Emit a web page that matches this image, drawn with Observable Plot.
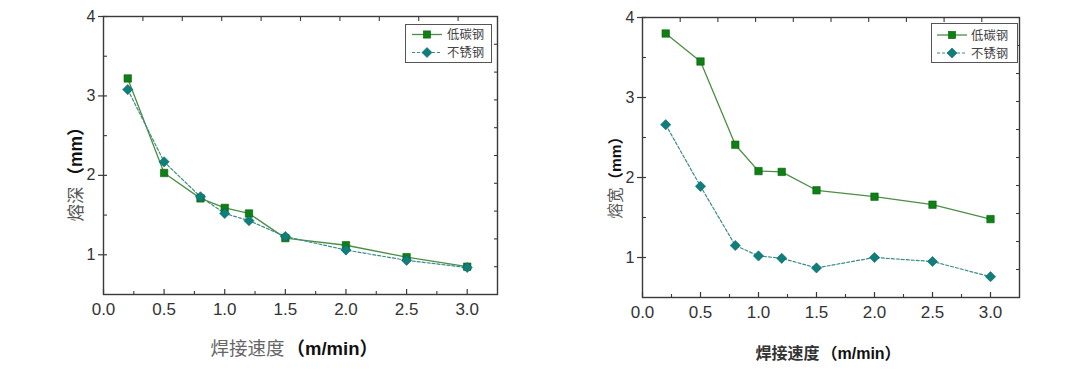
<!DOCTYPE html>
<html><head><meta charset="utf-8">
<script src="https://cdn.jsdelivr.net/npm/d3@7"></script>
<script src="https://cdn.jsdelivr.net/npm/@observablehq/plot@0.6"></script>
<style>
body{margin:0;background:#fff;}
#wrap{position:relative;width:1080px;height:372px;overflow:hidden;background:#fff;}
.panel{position:absolute;top:0;}
.legend{position:absolute;}
</style></head>
<body><div id="wrap"></div>
<script>
// ---- data ----
const speed = [0.2, 0.5, 0.8, 1.0, 1.2, 1.5, 2.0, 2.5, 3.0];
const depthLowCarbon = [3.22, 2.03, 1.71, 1.59, 1.52, 1.21, 1.12, 0.97, 0.85];
const depthStainless = [3.08, 2.17, 1.73, 1.52, 1.43, 1.23, 1.06, 0.93, 0.84];
const widthLowCarbon = [3.80, 3.45, 2.41, 2.08, 2.07, 1.84, 1.76, 1.66, 1.48];
const widthStainless = [2.66, 1.89, 1.15, 1.02, 0.99, 0.87, 1.00, 0.95, 0.76];
const seriesNames = ["低碳钢", "不锈钢"];
const xTicks = [0, 0.5, 1.0, 1.5, 2.0, 2.5, 3.0];
const xMinorTicks = [0.25, 0.75, 1.25, 1.75, 2.25, 2.75];
const topTicks = [0.325, 0.65, 0.975, 1.3, 1.625, 1.95, 2.275, 2.6, 2.925];
const yTicks = [1, 2, 3, 4];
const yMinorTicks = [1.5, 2.5, 3.5];
const rightTicks = [0.85, 1.2, 1.55, 1.9, 2.25, 2.6, 2.95, 3.3, 3.65];
const xLabelMain = "焊接速度";
const xLabelUnit = "（m/min）";
const yLabelDepth = "熔深";
const yLabelWidth = "熔宽";
const yLabelUnit = "（mm）";

const green = "#4a8f45", greenFill = "#0f8015", greenStroke = "#0a5e0e";
const teal = "#3d8c87", tealFill = "#0f7f7b", tealStroke = "#0b6361";
const wrap = document.getElementById("wrap");

function rows(vals, name) { return speed.map((s, i) => ({speed: s, value: vals[i], series: name})); }

function panel(cfg) {
  const {a, b, yLab, m, left, xl, yl} = cfg;
  const A = rows(a, seriesNames[0]), B = rows(b, seriesNames[1]);
  const W = 540, H = 372;
  const at = (px, py) => ({frameAnchor: "top-left", dx: px - left - m.l, dy: py - m.t});
  const cn = "'Noto Sans CJK SC', sans-serif";
  const svg = Plot.plot({
    width: W, height: H,
    marginLeft: m.l, marginRight: m.r, marginTop: m.t, marginBottom: m.b,
    x: {domain: [0, 3.25], label: null},
    y: {domain: [0.5, 4], label: null},
    style: {fontFamily: "'Liberation Sans', Arial, sans-serif", color: "#333", background: "transparent"},
    marks: [
      Plot.frame({stroke: "#3a3a3a", strokeWidth: 1.4}),
      Plot.axisX({ticks: xTicks, tickSize: 0, tickPadding: 8, tickFormat: d => d.toFixed(1), fontSize: m.fx, fill: "#333", label: null}),
      Plot.axisX({ticks: xTicks, tickSize: -5, text: null, label: null, stroke: "#3a3a3a", strokeWidth: 1.2}),
      Plot.axisX({ticks: xMinorTicks, tickSize: -3, text: null, label: null, stroke: "#3a3a3a", strokeWidth: 1.1}),
      Plot.axisX({anchor: "top", ticks: topTicks, tickSize: -4, text: null, label: null, stroke: "#3a3a3a", strokeWidth: 1.1}),
      Plot.axisY({ticks: yTicks, tickSize: 5, tickPadding: 3, tickFormat: d => String(d), fontSize: m.fy, fill: "#333", label: null, stroke: "#3a3a3a", strokeWidth: 1.2}),
      Plot.axisY({ticks: yTicks, tickSize: -4, text: null, label: null, stroke: "#3a3a3a", strokeWidth: 1.2}),
      Plot.axisY({ticks: yMinorTicks, tickSize: -4, text: null, label: null, stroke: "#3a3a3a", strokeWidth: 1.1}),
      Plot.axisY({anchor: "right", ticks: rightTicks, tickSize: -4, text: null, label: null, stroke: "#3a3a3a", strokeWidth: 1.1}),
      Plot.line(A, {x: "speed", y: "value", stroke: green, strokeWidth: 1.3}),
      Plot.line(B, {x: "speed", y: "value", stroke: teal, strokeWidth: 1.2, strokeDasharray: "3,2"}),
      Plot.dot(A, {x: "speed", y: "value", symbol: "square", r: 4.2, fill: greenFill, stroke: greenStroke, strokeWidth: 0.6}),
      Plot.dot(B, {x: "speed", y: "value", symbol: "diamond2", r: 4.6, fill: tealFill, stroke: tealStroke, strokeWidth: 0.6}),
      Plot.text([xLabelMain], {text: d => d, ...at(xl.x1, xl.y), textAnchor: "end", fontSize: xl.fs, fontFamily: cn, fill: xl.c1, fontWeight: xl.w1}),
      Plot.text([xLabelUnit], {text: d => d, ...at(xl.x2, xl.y), textAnchor: "start", fontSize: xl.fs, fontFamily: "'Liberation Sans', 'Noto Sans CJK SC', sans-serif", fill: "#111", fontWeight: "bold"}),
      Plot.text([yLab], {text: d => d, ...at(yl.x, yl.y1), rotate: -90, textAnchor: "start", fontSize: yl.fs, fontFamily: cn, fill: "#555"}),
      Plot.text([yLabelUnit], {text: d => d, ...at(yl.x, yl.y2), rotate: -90, textAnchor: "start", fontSize: yl.fs, fontFamily: "'Liberation Sans', 'Noto Sans CJK SC', sans-serif", fill: "#111", fontWeight: "bold"})
    ]
  });
  svg.classList.add("panel");
  svg.style.left = left + "px";
  wrap.appendChild(svg);
}

panel({a: depthLowCarbon, b: depthStainless, yLab: yLabelDepth, left: 0,
  m: {l: 103, r: 43, t: 16, b: 78, fx: 17, fy: 16},
  xl: {x1: 284, x2: 286, y: 341, fs: 18.5, c1: "#666", w1: "normal"},
  yl: {x: 69, y1: 221, y2: 184, fs: 17.5}});
panel({a: widthLowCarbon, b: widthStainless, yLab: yLabelWidth, left: 540,
  m: {l: 102, r: 61, t: 17, b: 75, fx: 17, fy: 16},
  xl: {x1: 819, x2: 821, y: 347, fs: 16, c1: "#333", w1: "600"},
  yl: {x: 609, y1: 218, y2: 187, fs: 15.5}});

// ---- legends ----
function legend(x, y, w, h, r1, r2, lx1, lx2, tx) {
  const s = d3.create("svg").attr("class", "legend").attr("width", w).attr("height", h)
    .style("left", x + "px").style("top", y + "px");
  s.append("rect").attr("x", 0.5).attr("y", 0.5).attr("width", w - 1).attr("height", h - 1)
    .attr("fill", "#fff").attr("stroke", "#555").attr("stroke-width", 1);
  const mx = (lx1 + lx2) / 2;
  s.append("line").attr("x1", lx1).attr("x2", lx2).attr("y1", r1).attr("y2", r1).attr("stroke", green).attr("stroke-width", 1.3);
  s.append("rect").attr("x", mx - 3.6).attr("y", r1 - 3.6).attr("width", 7.2).attr("height", 7.2).attr("fill", greenFill).attr("stroke", greenStroke).attr("stroke-width", 0.6);
  s.append("line").attr("x1", lx1).attr("x2", lx2).attr("y1", r2).attr("y2", r2).attr("stroke", teal).attr("stroke-width", 1.2).attr("stroke-dasharray", "3,2");
  s.append("path").attr("d", `M${mx},${r2 - 5}L${mx + 5},${r2}L${mx},${r2 + 5}L${mx - 5},${r2}Z`).attr("fill", tealFill).attr("stroke", tealStroke).attr("stroke-width", 0.6);
  [r1, r2].forEach((ry, i) => s.append("text").attr("x", tx).attr("y", ry + 4.5)
    .attr("font-family", "'Noto Sans CJK SC', sans-serif").attr("font-size", 12.4).attr("fill", "#444").text(seriesNames[i]));
  wrap.appendChild(s.node());
}
legend(405, 24, 87, 39, 10.5, 28.5, 7, 37, 42);
legend(931, 23, 87, 40, 12, 30, 6, 36, 40);
</script>
</body></html>
